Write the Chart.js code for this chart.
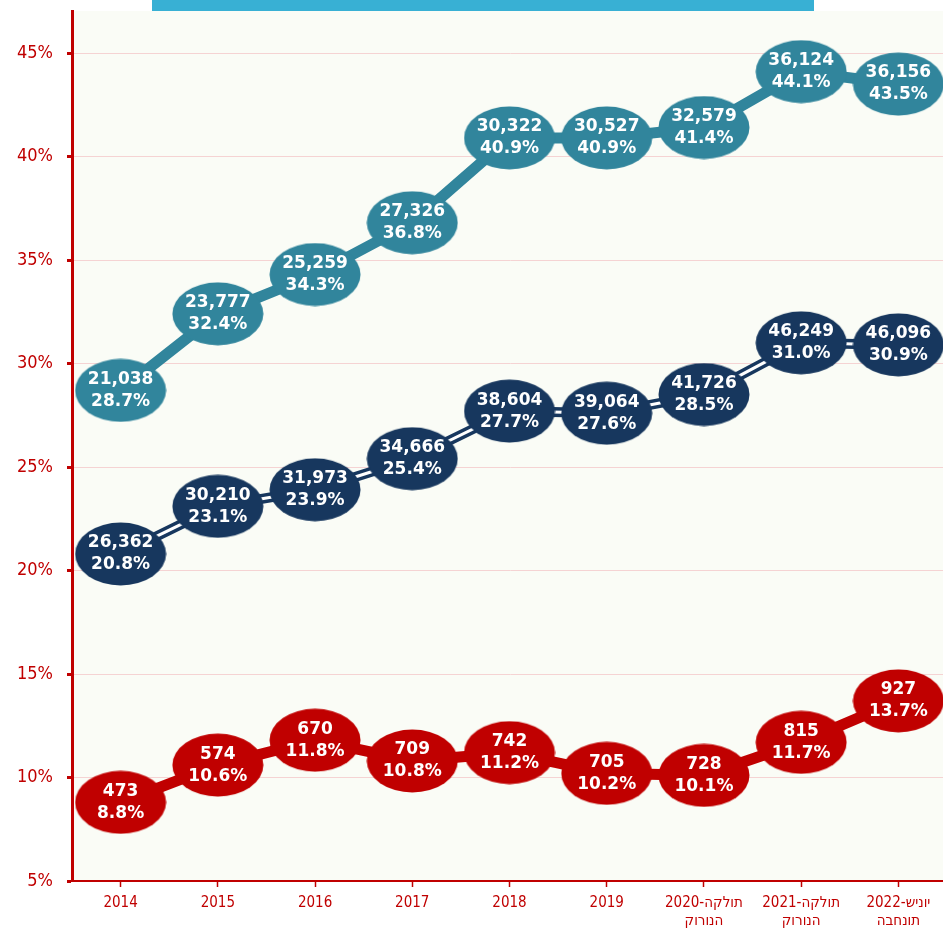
<!DOCTYPE html>
<html>
<head>
<meta charset="utf-8">
<script src="https://cdn.jsdelivr.net/npm/chart.js@4/dist/chart.umd.min.js"></script>
<style>
  html, body { margin: 0; padding: 0; background: #ffffff; overflow: hidden; }
  #wrap { position: relative; width: 947px; height: 931px; }
  #banner { position: absolute; left: 152px; top: 0; width: 662px; height: 11px; background: #38b0d4; z-index: 2; }
  canvas { position: absolute; left: 0; top: 0; }
</style>
</head>
<body>
<div id="wrap">
  <div id="banner"></div>
  <canvas id="c" width="947" height="931"></canvas>
</div>
<script>
// ---- data ----
const LRO = '\u202D', PDF = '\u202C';
const categories = [
  '2014', '2015', '2016', '2017', '2018', '2019',
  [LRO + '2020-הקלות' + PDF, LRO + 'קורונה' + PDF],
  [LRO + '2021-הקלות' + PDF, LRO + 'קורונה' + PDF],
  [LRO + '2022-שינוי' + PDF, LRO + 'הבחנות' + PDF]
];
const tealCounts = [21038, 23777, 25259, 27326, 30322, 30527, 32579, 36124, 36156];
const tealPct    = [28.7, 32.4, 34.3, 36.8, 40.9, 40.9, 41.4, 44.1, 43.5];
const navyCounts = [26362, 30210, 31973, 34666, 38604, 39064, 41726, 46249, 46096];
const navyPct    = [20.8, 23.1, 23.9, 25.4, 27.7, 27.6, 28.5, 31.0, 30.9];
const redCounts  = [473, 574, 670, 709, 742, 705, 728, 815, 927];
const redPct     = [8.8, 10.6, 11.8, 10.8, 11.2, 10.2, 10.1, 11.7, 13.7];
const yTicks     = [5, 10, 15, 20, 25, 30, 35, 40, 45];

const TEAL = '#31859c', NAVY = '#17375e', RED = '#c00000';

function ellipseCanvas(color) {
  const c = document.createElement('canvas');
  c.width = 92; c.height = 64;
  const x = c.getContext('2d');
  x.fillStyle = color;
  x.beginPath();
  x.ellipse(46, 32, 45.5, 31.5, 0, 0, Math.PI * 2);
  x.fill();
  return c;
}

function lineDs(data, color, width, order) {
  return { data, borderColor: color, borderWidth: width, pointRadius: 0, fill: false,
           tension: 0, order, clip: false, borderCapStyle: 'butt', borderJoinStyle: 'round' };
}
function pointDs(data, counts, color, order) {
  return { data, counts, showLine: false, pointStyle: ellipseCanvas(color), pointRadius: 10,
           pointHoverRadius: 10, order, clip: false };
}

const labelPlugin = {
  id: 'ellipseLabels',
  afterDatasetsDraw(chart) {
    const ctx = chart.ctx;
    ctx.save();
    ctx.fillStyle = '#ffffff';
    ctx.font = "bold 17px 'DejaVu Sans', Verdana, sans-serif";
    ctx.textAlign = 'center';
    ctx.textBaseline = 'middle';
    chart.data.datasets.forEach((ds, i) => {
      if (!ds.counts) return;
      const meta = chart.getDatasetMeta(i);
      meta.data.forEach((pt, j) => {
        ctx.fillText(ds.counts[j].toLocaleString('en-US'), pt.x, pt.y - 11);
        ctx.fillText(ds.data[j].toFixed(1) + '%', pt.x, pt.y + 11);
      });
    });
    ctx.restore();
  }
};

const bgPlugin = {
  id: 'plotBg',
  beforeDraw(chart) {
    const a = chart.chartArea, ctx = chart.ctx;
    ctx.save();
    ctx.fillStyle = '#fafcf6';
    ctx.fillRect(a.left, a.top, a.right - a.left, a.bottom - a.top);
    ctx.restore();
  }
};

function zeroPad(scale) {
  scale.paddingTop = 0; scale.paddingBottom = 0; scale.paddingLeft = 0; scale.paddingRight = 0;
}

new Chart(document.getElementById('c'), {
  type: 'line',
  data: {
    labels: categories,
    datasets: [
      lineDs(tealPct, TEAL, 11, 10),
      lineDs(navyPct, NAVY, 10, 9),
      lineDs(navyPct, '#ffffff', 3, 8),
      lineDs(redPct, RED, 11, 7),
      pointDs(tealPct, tealCounts, TEAL, 3),
      pointDs(navyPct, navyCounts, NAVY, 2),
      pointDs(redPct, redCounts, RED, 1)
    ]
  },
  options: {
    responsive: false,
    animation: false,
    layout: { autoPadding: false, padding: { top: 11, right: 0, left: 0, bottom: 0 } },
    plugins: { legend: { display: false }, tooltip: { enabled: false } },
    events: [],
    scales: {
      x: {
        offset: true,
        grid: { display: true, drawOnChartArea: false, offset: false, tickLength: 6,
                tickColor: RED, tickWidth: 1.5 },
        border: { color: RED, width: 2 },
        ticks: { color: RED, padding: 7, maxRotation: 0, autoSkip: false,
                 font: { family: "'DejaVu Sans Condensed', 'DejaVu Sans', sans-serif", size: 15, lineHeight: 1.2 } },
        afterFit(scale) { scale.height = 50; zeroPad(scale); }
      },
      y: {
        min: 5,
        max: 47.03,
        afterBuildTicks(scale) { scale.ticks = yTicks.map(v => ({ value: v })); },
        grid: { color: '#f5d3d3', lineWidth: 1, tickColor: RED, tickLength: 5, tickWidth: 3 },
        border: { color: RED, width: 3 },
        ticks: { color: RED, padding: 14, callback: v => v + '%',
                 font: { family: "'DejaVu Sans Condensed', 'DejaVu Sans', sans-serif", size: 18 } },
        afterFit(scale) { scale.width = 72; zeroPad(scale); }
      }
    }
  },
  plugins: [bgPlugin, labelPlugin]
});
</script>
</body>
</html>
